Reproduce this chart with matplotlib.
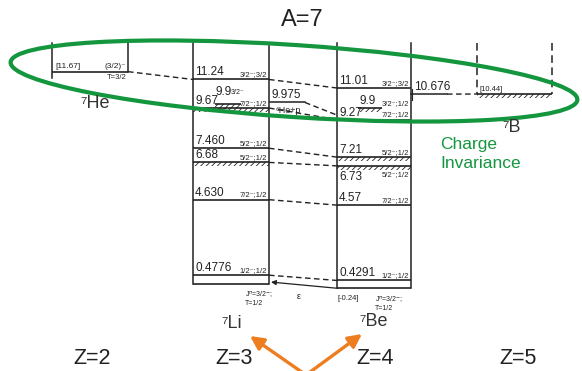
import matplotlib.pyplot as plt
from matplotlib.patches import Ellipse, Rectangle

plt.rcParams['font.family'] = ['Liberation Sans', 'DejaVu Sans']
plt.rcParams['hatch.linewidth'] = 0.6

INK = '#222222'
GREEN = '#14963f'
ORANGE = '#ee7d1f'

# A=7 isobar levels, energies in MeV as printed, with J^pi;T
he_lab = ['11.67']
li_lab = ['0.4776', '4.630', '6.68', '7.460', '9.67', '11.24']
li_jt = ['1/2⁻;1/2', '7/2⁻;1/2', '5/2⁻;1/2', '5/2⁻;1/2', '7/2⁻;1/2', '3/2⁻;3/2']
li_broad = [False, False, True, False, True, False]
be_lab = ['0.4291', '4.57', '6.73', '7.21', '9.27', '11.01']
be_jt = ['1/2⁻;1/2', '7/2⁻;1/2', '5/2⁻;1/2', '5/2⁻;1/2', '7/2⁻;1/2', '3/2⁻;3/2']
be_broad = [False, False, True, True, False, False]
b_lab = ['10.44']
doublet_lab = '9.9'            # broad 3/2- level seen in 7Li and 7Be
li_thr_lab, li_thr_name = '9.975', '⁶He+p'
be_thr_lab = '10.676'
be_ground = -0.24              # 7Be ground state after Coulomb correction

z_labels = ['Z=2', 'Z=3', 'Z=4', 'Z=5']
nuclides = ['⁷He', '⁷Li', '⁷Be', '⁷B']

li_E = [float(s) for s in li_lab]
be_E = [float(s) + be_ground for s in be_lab]
he_E = float(he_lab[0])
b_E = float(b_lab[0])

# column edges
HE = (52, 128)
LI = (193, 269)
BE = (337, 411)
BB = (477, 552)
TOP = 13.24

fig = plt.figure(figsize=(5.82, 3.71), dpi=100)
ax = fig.add_axes([0, 0, 1, 1])
ax.set_xlim(0, 582)
ax.set_ylim(-4.79, 15.61)
ax.axis('off')


def level(x0, x1, E, broad=False):
    ax.plot([x0, x1], [E, E], color=INK, lw=1.2, solid_capstyle='butt')
    if broad:
        ax.add_patch(Rectangle((x0, E - 0.22), x1 - x0, 0.22, fill=False,
                               hatch='//////', lw=0, edgecolor=INK))


def dashed(x0, E0, x1, E1):
    ax.plot([x0, x1], [E0, E1], color=INK, lw=1.0, ls=(0, (4, 2.5)))


def small(x, E, s, ha='left', va='bottom', size=5.5):
    ax.text(x, E, s, ha=ha, va=va, fontsize=size, color=INK)


# column walls
for x in HE:
    ax.plot([x, x], [TOP, he_E - (0.35 if x == HE[0] else 0)], color=INK, lw=1.1)
for x in LI:
    ax.plot([x, x], [TOP, 0], color=INK, lw=1.1)
for x in BE:
    ax.plot([x, x], [TOP, be_ground], color=INK, lw=1.1)
for x in BB:
    ax.plot([x, x], [TOP, b_E], color=INK, lw=1.1, ls=(0, (5, 3)))

# 7He
level(*HE, he_E)
small(HE[0] + 3, he_E + 0.08, '[' + he_lab[0] + ']', size=6)
small(HE[1] - 2, he_E + 0.08, '(3/2)⁻', ha='right', size=6)
small(HE[1] - 1, he_E - 0.12, 'T=3/2', ha='right', va='top')

# 7Li
level(*LI, 0)
for E, lab, jt, br in zip(li_E, li_lab, li_jt, li_broad):
    level(*LI, E, br)
    ax.text(LI[0] + 2, E + 0.06, lab, fontsize=8.5, va='bottom', color=INK)
    small(LI[1] - 2, E + 0.08, jt, ha='right')
li_99 = float(doublet_lab)
level(215, 241, li_99, True)
ax.text(216, li_99 + 0.3, doublet_lab, fontsize=8.5, va='bottom', color=INK)
small(231, li_99 + 0.45, '3/2⁻', size=5)
small(LI[0] + 52, -0.3, r'J$^{\pi}$=3/2$^{-}$;', va='top', size=5)
small(LI[0] + 52, -0.9, 'T=1/2', va='top', size=5)

# 6He+p threshold
li_thr = float(li_thr_lab)
ax.plot([LI[1] + 1, 305], [li_thr, li_thr], color=INK, lw=1.1)
ax.text(LI[1] + 3, li_thr + 0.06, li_thr_lab, fontsize=8.5, va='bottom', color=INK)
small(276, li_thr - 0.2, li_thr_name, va='top', size=6.5)

# 7Be
level(*BE, be_ground)
for E, lab, jt, br in zip(be_E, be_lab, be_jt, be_broad):
    level(*BE, E, br)
    if lab == '6.73':
        ax.text(BE[0] + 2, E - 0.3, lab, fontsize=8.5, va='top', color=INK)
        small(BE[1] - 2, E - 0.3, jt, ha='right', va='top')
    else:
        ax.text(BE[0] + 2, E + 0.06, lab, fontsize=8.5, va='bottom', color=INK)
        small(BE[1] - 2, E + 0.08, jt, ha='right')
be_99 = li_99 + be_ground
level(358, 382, be_99, True)
ax.text(359, be_99 + 0.06, doublet_lab, fontsize=8.5, va='bottom', color=INK)
small(BE[1] - 2, be_99 + 0.08, '3/2⁻;1/2', ha='right')
small(BE[0] + 1, be_ground - 0.35, '[-0.24]', va='top', size=5.5)
small(BE[0] + 38, be_ground - 0.3, r'J$^{\pi}$=3/2$^{-}$;', va='top', size=5)
small(BE[0] + 38, be_ground - 0.9, 'T=1/2', va='top', size=5)

# 7Be threshold and 7B
be_thr = float(be_thr_lab) + be_ground
ax.plot([BE[1], 447], [be_thr, be_thr], color=INK, lw=1.1)
ax.plot([BE[1] + 1, BE[1] + 1], [be_thr - 0.3, be_thr + 0.3], color=INK, lw=0.8)
ax.text(BE[1] + 3, be_thr + 0.06, be_thr_lab, fontsize=8.5, va='bottom', color=INK)
level(*BB, b_E, True)
small(BB[0] + 3, b_E + 0.08, '[' + b_lab[0] + ']', size=5.5)

# analogue-level connections
dashed(HE[1], he_E, LI[0], li_E[-1])
for El, Eb in zip(li_E, be_E):
    dashed(LI[1], El, BE[0], Eb)
dashed(305, li_thr, BE[0], be_E[4] + 0.25)
dashed(447, be_thr, BB[0], b_E)

# electron capture 7Be -> 7Li
ax.annotate('', xy=(LI[1] + 2, 0.1), xytext=(BE[0], be_ground),
            arrowprops=dict(arrowstyle='-|>', color=INK, lw=0.9,
                            mutation_scale=7, shrinkA=0, shrinkB=0))
ax.text(297, -0.45, 'ε', fontsize=6.5, va='top', color=INK)

# labels and highlights drawn on a pixel overlay
ov = fig.add_axes([0, 0, 1, 1])
ov.set_xlim(0, 582)
ov.set_ylim(371, 0)
ov.axis('off')

ov.text(302, 20, 'A=7', fontsize=17, ha='center', va='center', color='#222222')
for x, s in zip([92, 234, 375, 518], z_labels):
    ov.text(x, 359, s, fontsize=15.5, ha='center', va='center', color='#222222')
for (x, y), s in zip([(95, 104), (232, 324), (374, 321), (512, 127)], nuclides):
    ov.text(x, y, s, fontsize=13, ha='center', va='center', color='#333333')

ov.add_patch(Ellipse((294, 81), 568, 72, angle=3.8, fill=False,
                     edgecolor=GREEN, lw=3.0))
ov.text(440, 137, 'Charge\nInvariance', fontsize=12.5, color=GREEN,
        va='top', ha='left', linespacing=1.3)

for tip in [(250, 336), (362, 334)]:
    ov.annotate('', xy=tip, xytext=(306, 375), annotation_clip=False,
                arrowprops=dict(arrowstyle='-|>', color=ORANGE, lw=2.4,
                                mutation_scale=20, shrinkA=0, shrinkB=0))

fig.savefig('out.png', dpi=100)
